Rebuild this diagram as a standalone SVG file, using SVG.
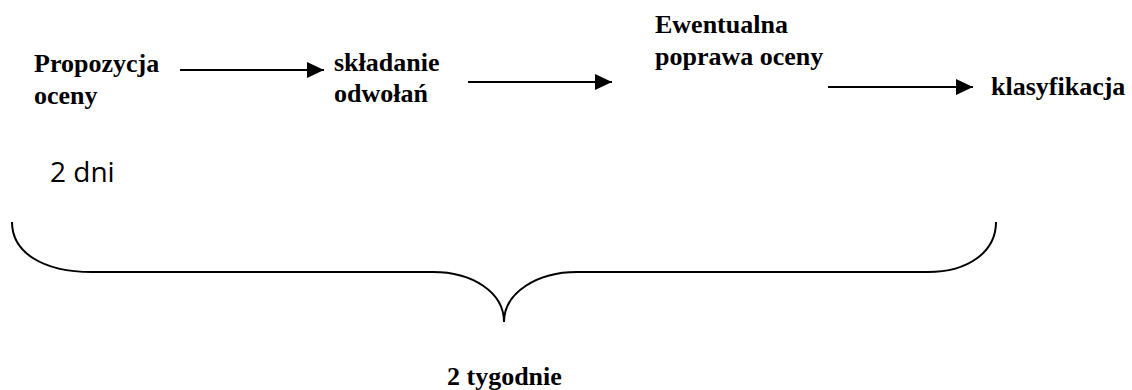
<svg xmlns="http://www.w3.org/2000/svg" width="1132" height="390" viewBox="0 0 1132 390">
<style>
.t{font-family:"Liberation Serif","Times New Roman",serif;font-weight:bold;font-size:26px;fill:#000}
.s{font-family:"Open Sans","Liberation Sans",sans-serif;font-size:28px;fill:#000}
.c{stroke:#000;stroke-width:2;fill:none}
</style>
<defs>
<marker id="ah" markerWidth="17" markerHeight="16" refX="17" refY="8" orient="auto" markerUnits="userSpaceOnUse">
<path d="M0,0 L17,8 L0,16 Z" fill="#000"/>
</marker>
</defs>
<rect width="1132" height="390" fill="#fff"/>
<g id="n1"><text class="t" x="34" y="72">Propozycja</text><text class="t" x="34" y="104">oceny</text></g>
<g id="n2"><text class="t" x="334" y="71">składanie</text><text class="t" x="334" y="102">odwołań</text></g>
<g id="n3"><text class="t" x="655" y="33">Ewentualna</text><text class="t" x="655" y="65">poprawa oceny</text></g>
<g id="n4"><text class="t" x="991" y="95">klasyfikacja</text></g>
<g id="n5"><text class="s" x="50" y="182">2 dni</text></g>
<g id="n6"><text class="t" x="447" y="385">2 tygodnie</text></g>
<g id="connectors">
<line class="c" x1="180" y1="70" x2="324" y2="70" marker-end="url(#ah)"/>
<line class="c" x1="468" y1="82" x2="612" y2="82" marker-end="url(#ah)"/>
<line class="c" x1="828" y1="87" x2="973" y2="87" marker-end="url(#ah)"/>
<path class="c" d="M12,222 C12,252 42,272 92,272 L433,272 C472,272 504,292 504,322 C504,292 538,272 577,272 L928,272 C968,272 996,252 996,222"/>
</g>
</svg>
